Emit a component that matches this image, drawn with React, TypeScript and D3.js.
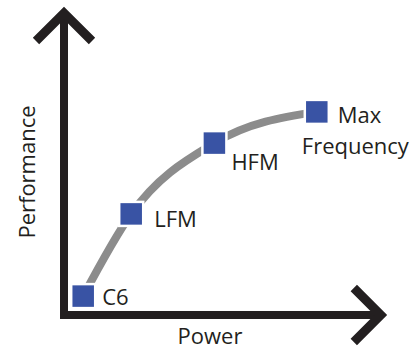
import React from "react";
import * as d3 from "d3";

// Operating points (power, performance) in arbitrary units
const states = ["C6", "LFM", "HFM", "Max Frequency"];
const powerValues = [6, 21, 47, 79];
const performanceValues = [6.3, 33.7, 57.3, 67.7];
const axisTitles = ["Power", "Performance"];

const W = 417;
const H = 350;
const INK = "#231f20";
const BLUE = "#3953a4";
const CURVE = "#8c8c8c";
const FONT = "'Open Sans', sans-serif";

export default function App() {
  const x = d3.scaleLinear().domain([0, 100]).range([64, 384]);
  const y = d3.scaleLinear().domain([0, 100]).range([315, 15]);

  const pts = powerValues.map((p, i) => ({
    name: states[i],
    px: x(p),
    py: y(performanceValues[i]),
  }));

  const curve = d3
    .line<{ px: number; py: number }>()
    .x((d) => d.px)
    .y((d) => d.py)
    .curve(d3.curveMonotoneX)(pts) as string;

  const ox = x(0);
  const oy = y(0);
  const topY = y(100) - 2;
  const rightX = x(99);
  const axisPath = `M${ox},${topY} L${ox},${oy} L${rightX},${oy}`;
  const upHead = `M${ox - 28},${topY + 28} L${ox},${topY} L${ox + 28},${topY + 28}`;
  const rightHead = `M${rightX - 27},${oy - 27} L${rightX},${oy} L${rightX - 27},${oy + 27}`;

  const S = 24;
  const labelPos = [
    { dx: 19, dy: 9 },
    { dx: 23, dy: 13 },
    { dx: 17, dy: 27 },
    { dx: 21, dy: 11 },
  ];

  return (
    <svg width={W} height={H} style={{ position: "absolute", left: 0, top: 0, background: "#fff" }}>
      <path d={axisPath} fill="none" stroke={INK} strokeWidth={8} strokeLinejoin="miter" strokeLinecap="butt" />
      <path d={upHead} fill="none" stroke={INK} strokeWidth={9} strokeLinejoin="miter" strokeMiterlimit={10} />
      <path d={rightHead} fill="none" stroke={INK} strokeWidth={9} strokeLinejoin="miter" strokeMiterlimit={10} />
      <path d={curve} fill="none" stroke={CURVE} strokeWidth={8} />
      {pts.map((p) => (
        <rect
          key={p.name}
          x={p.px - S / 2}
          y={p.py - S / 2}
          width={S}
          height={S}
          fill={BLUE}
          stroke="#fff"
          strokeWidth={2.5}
        />
      ))}
      {pts.map((p, i) => {
        const words = p.name.split(" ");
        const lp = labelPos[i];
        if (words.length > 1) {
          return (
            <text key={p.name} fontFamily={FONT} fontSize={22} fill={INK}>
              <tspan x={p.px + lp.dx} y={p.py + lp.dy}>{words[0]}</tspan>
              <tspan x={p.px - 15} y={p.py + 42}>{words.slice(1).join(" ")}</tspan>
            </text>
          );
        }
        return (
          <text key={p.name} x={p.px + lp.dx} y={p.py + lp.dy} fontFamily={FONT} fontSize={22} fill={INK}>
            {p.name}
          </text>
        );
      })}
      <text x={210} y={344} textAnchor="middle" fontFamily={FONT} fontSize={22} fill={INK}>
        {axisTitles[0]}
      </text>
      <text
        transform={`translate(35,172) rotate(-90)`}
        textAnchor="middle"
        fontFamily={FONT}
        fontSize={22}
        fill={INK}
      >
        {axisTitles[1]}
      </text>
    </svg>
  );
}
